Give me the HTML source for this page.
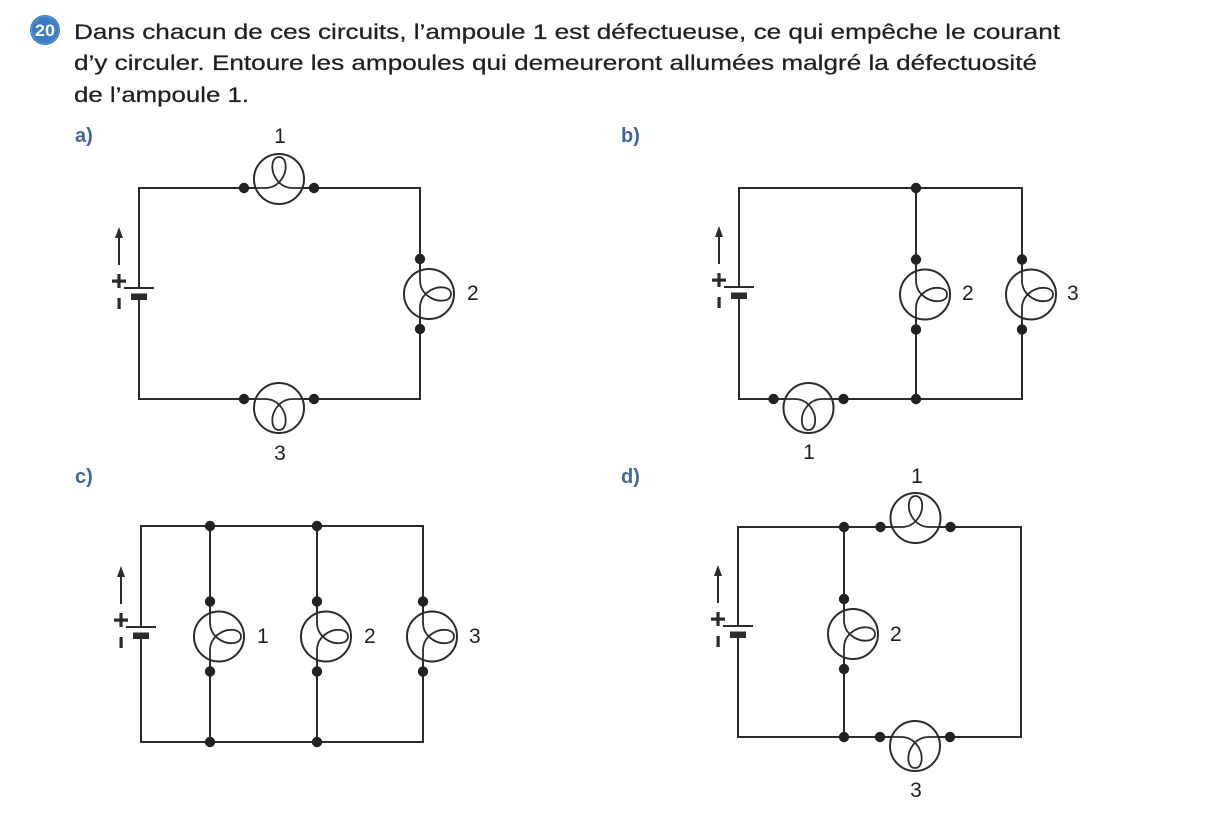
<!DOCTYPE html>
<html><head><meta charset="utf-8">
<style>
html,body{margin:0;padding:0;background:#fff;}
svg{display:block;}
.t{font-family:"Liberation Sans",sans-serif;font-size:21px;fill:#231f20;stroke:#231f20;stroke-width:0.25;}
.n{font-family:"Liberation Sans",sans-serif;font-size:21px;fill:#231f20;}
.l{font-family:"Liberation Sans",sans-serif;font-size:20px;font-weight:bold;fill:#41669f;}
</style></head>
<body>
<svg width="1223" height="817" viewBox="0 0 1223 817" xmlns="http://www.w3.org/2000/svg">
<defs>
  <g id="bv">
    <circle cx="9" cy="0" r="25" fill="#fff" stroke="#2b2b2b" stroke-width="2"/>
    <path d="M0,-35 L0,-14 Q0,-4 8,2 C17,9 31,8 31,0 C31,-8 17,-9 8,-2 Q0,4 0,14 L0,35" fill="none" stroke="#2b2b2b" stroke-width="1.8"/>
    <circle cx="0" cy="-35" r="5.2" fill="#222"/>
    <circle cx="0" cy="35" r="5.2" fill="#222"/>
  </g>
  <g id="bat">
    <line x1="-15" y1="0" x2="15" y2="0" stroke="#2b2b2b" stroke-width="2"/>
    <rect x="-8" y="5.5" width="16" height="6.5" fill="#2b2b2b"/>
    <rect x="-27" y="-8.5" width="14" height="3.2" fill="#2b2b2b"/>
    <rect x="-21.6" y="-14" width="3.2" height="14" fill="#2b2b2b"/>
    <rect x="-21.5" y="10" width="3.2" height="11" fill="#2b2b2b"/>
    <line x1="-20" y1="-23" x2="-20" y2="-52" stroke="#2b2b2b" stroke-width="2"/>
    <path d="M-24,-50 L-20,-61 L-16,-50 Z" fill="#2b2b2b"/>
  </g>
</defs>

<!-- Header -->
<circle cx="45" cy="30" r="15" fill="#3b7dc2"/>
<circle cx="45" cy="30" r="13.5" fill="none" stroke="#5a97d4" stroke-width="1"/>
<text x="45" y="36" text-anchor="middle" font-family="Liberation Sans, sans-serif" font-weight="bold" font-size="17" fill="#fff" textLength="20" lengthAdjust="spacingAndGlyphs">20</text>
<text class="t" x="74" y="39" textLength="986" lengthAdjust="spacingAndGlyphs">Dans chacun de ces circuits, l’ampoule 1 est défectueuse, ce qui empêche le courant</text>
<text class="t" x="74" y="70" textLength="963" lengthAdjust="spacingAndGlyphs">d’y circuler. Entoure les ampoules qui demeureront allumées malgré la défectuosité</text>
<text class="t" x="74" y="102" textLength="175" lengthAdjust="spacingAndGlyphs">de l’ampoule 1.</text>

<!-- Section labels -->
<text class="l" x="75" y="142">a)</text>
<text class="l" x="621" y="142">b)</text>
<text class="l" x="75" y="483">c)</text>
<text class="l" x="621" y="483">d)</text>

<g stroke="#2b2b2b" stroke-width="2" fill="none">
  <path d="M139,288 L139,188 L420,188 L420,399 L139,399 L139,299"/>
  <path d="M739,287 L739,188 L1022,188 L1022,399 L739,399 L739,298"/>
  <line x1="916" y1="188" x2="916" y2="399"/>
  <path d="M141,627 L141,526 L423,526 L423,742 L141,742 L141,638"/>
  <line x1="210" y1="526" x2="210" y2="742"/>
  <line x1="317" y1="526" x2="317" y2="742"/>
  <path d="M738,626 L738,527 L1021,527 L1021,737 L738,737 L738,637"/>
  <line x1="844" y1="527" x2="844" y2="737"/>
</g>

<!-- Circuit a -->
<use href="#bat" x="139" y="288"/>
<use href="#bv" transform="translate(279,188) rotate(-90)"/>
<use href="#bv" transform="translate(420,294)"/>
<use href="#bv" transform="translate(279,399) rotate(90)"/>
<text class="n" x="280" y="143" text-anchor="middle">1</text>
<text class="n" x="467" y="300">2</text>
<text class="n" x="280" y="460" text-anchor="middle">3</text>

<!-- Circuit b -->
<use href="#bat" x="739" y="287"/>
<use href="#bv" transform="translate(916,294.5)"/>
<use href="#bv" transform="translate(1022,294.5)"/>
<use href="#bv" transform="translate(808.5,399) rotate(90)"/>
<circle cx="916" cy="188" r="5.2" fill="#222"/>
<circle cx="916" cy="399" r="5.2" fill="#222"/>
<text class="n" x="962" y="300">2</text>
<text class="n" x="1067" y="300">3</text>
<text class="n" x="809" y="459" text-anchor="middle">1</text>

<!-- Circuit c -->
<use href="#bat" x="141" y="627"/>
<use href="#bv" transform="translate(210,636.5)"/>
<use href="#bv" transform="translate(317,636.5)"/>
<use href="#bv" transform="translate(423,636.5)"/>
<circle cx="210" cy="526" r="5.2" fill="#222"/>
<circle cx="317" cy="526" r="5.2" fill="#222"/>
<circle cx="210" cy="742" r="5.2" fill="#222"/>
<circle cx="317" cy="742" r="5.2" fill="#222"/>
<text class="n" x="257" y="643">1</text>
<text class="n" x="364" y="643">2</text>
<text class="n" x="469" y="643">3</text>

<!-- Circuit d -->
<use href="#bat" x="738" y="626"/>
<use href="#bv" transform="translate(915.5,527) rotate(-90)"/>
<use href="#bv" transform="translate(844,634)"/>
<use href="#bv" transform="translate(915,737) rotate(90)"/>
<circle cx="844" cy="527" r="5.2" fill="#222"/>
<circle cx="844" cy="737" r="5.2" fill="#222"/>
<text class="n" x="917" y="483" text-anchor="middle">1</text>
<text class="n" x="890" y="641">2</text>
<text class="n" x="916" y="797" text-anchor="middle">3</text>
</svg>
</body></html>
